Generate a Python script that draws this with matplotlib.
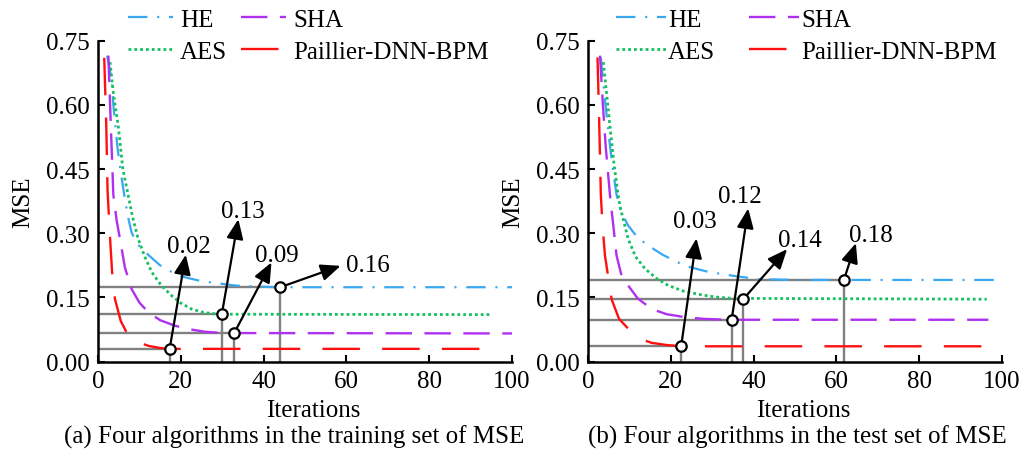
import matplotlib
matplotlib.use('Agg')
import matplotlib.pyplot as plt
from matplotlib.lines import Line2D

plt.rcParams['font.family'] = ['Liberation Serif', 'DejaVu Serif']
plt.rcParams['font.size'] = 18
plt.rcParams['lines.scale_dashes'] = False

# ---------------- training set (a) ----------------
tr_he_x = [2.2, 3.3, 3.7, 4.7, 5.6, 6.5, 7.2, 8.1, 9.5, 11.4, 15, 19.4, 25, 33.1, 42.8, 100]
tr_he_y = [0.715, 0.66, 0.60, 0.50, 0.435, 0.38, 0.34, 0.302, 0.275, 0.256, 0.225, 0.201, 0.188, 0.178, 0.174, 0.174]
tr_aes_x = [2.9, 3.8, 4.9, 6.0, 7.3, 8.3, 9.7, 11.3, 13.0, 15.3, 17.8, 20, 22.6, 25.5, 29, 95]
tr_aes_y = [0.70, 0.62, 0.55, 0.45, 0.388, 0.34, 0.287, 0.245, 0.209, 0.178, 0.154, 0.137, 0.123, 0.115, 0.111, 0.110]
tr_sha_x = [2.5, 3.1, 3.7, 4.5, 5.3, 6.5, 8.1, 10, 12.2, 15, 18.6, 22, 25.8, 30, 100]
tr_sha_y = [0.715, 0.55, 0.39, 0.33, 0.287, 0.22, 0.17, 0.138, 0.115, 0.097, 0.084, 0.076, 0.070, 0.067, 0.066]
tr_pdb_x = [1.5, 2.0, 2.3, 2.9, 3.4, 4.1, 5.5, 7.3, 9.5, 12.2, 15, 17.3, 95.5]
tr_pdb_y = [0.71, 0.55, 0.40, 0.29, 0.21, 0.146, 0.095, 0.061, 0.046, 0.037, 0.032, 0.030, 0.030]
# convergence points: Paillier, AES, SHA, HE
tr_mark_x = [17.3, 29.9, 32.9, 44.0]
tr_mark_y = [0.030, 0.111, 0.067, 0.174]
tr_labels = ['0.02', '0.13', '0.09', '0.16']

# ---------------- test set (b) ----------------
te_he_x = [3.1, 4.0, 5.0, 6.0, 6.9, 8.0, 9.7, 12, 14.6, 18, 23.4, 29, 35.5, 41.1, 50, 98]
te_he_y = [0.711, 0.62, 0.53, 0.45, 0.39, 0.35, 0.318, 0.29, 0.271, 0.25, 0.224, 0.21, 0.20, 0.193, 0.191, 0.191]
te_aes_x = [3.7, 5.2, 6.3, 7.3, 7.7, 9.7, 11.5, 13.8, 16.5, 19.4, 23, 27.5, 31, 34.8, 96.3]
te_aes_y = [0.70, 0.56, 0.46, 0.388, 0.364, 0.287, 0.245, 0.217, 0.195, 0.178, 0.165, 0.156, 0.151, 0.148, 0.146]
te_sha_x = [2.9, 3.6, 4.3, 5.3, 6.9, 8.0, 9.7, 12, 15.4, 19, 23.4, 28, 33.9, 96.7]
te_sha_y = [0.715, 0.60, 0.50, 0.39, 0.248, 0.205, 0.178, 0.148, 0.123, 0.111, 0.104, 0.100, 0.098, 0.098]
te_pdb_x = [2.3, 2.6, 2.9, 3.1, 3.5, 4.1, 5.7, 7.5, 10.5, 13, 15.4, 19, 22.6, 99]
te_pdb_y = [0.711, 0.60, 0.48, 0.39, 0.32, 0.248, 0.146, 0.10, 0.069, 0.052, 0.044, 0.039, 0.036, 0.036]
te_mark_x = [22.5, 34.7, 37.5, 61.8]
te_mark_y = [0.036, 0.098, 0.146, 0.191]
te_labels = ['0.03', '0.12', '0.14', '0.18']

names = ['HE', 'AES', 'SHA', 'Paillier-DNN-BPM']
colors = ['#3AA8F0', '#12C060', '#B030F0', '#FF1010']
dashes = [(14, 7, 1.5, 7), (2, 2.2), (19, 9), (27, 16)]
widths = [1.6, 2.0, 1.7, 1.7]

# arrow heads and label anchors (layout)
tr_heads = [(21.2, 0.250), (33.9, 0.333), (41.9, 0.232), (58.6, 0.224)]
tr_text = [(22.0, 0.256), (35.1, 0.337), (43.2, 0.236), (65.1, 0.213)]
te_heads = [(26.2, 0.288), (38.7, 0.358), (48.1, 0.263), (64.7, 0.277)]
te_text = [(25.8, 0.314), (36.7, 0.372), (51.1, 0.271), (68.4, 0.283)]

fig = plt.figure(figsize=(10.21, 4.56), dpi=100)
ax1 = fig.add_axes([0.096, 0.2046, 0.4055, 0.704])
ax2 = fig.add_axes([0.5759, 0.2046, 0.4055, 0.704])


def panel(ax, series, mark_x, mark_y, labels, heads, texts, caption, cap_x):
    for (xs, ys), c, d, w in zip(series, colors, dashes, widths):
        ax.plot(xs, ys, color=c, lw=w, dashes=d, zorder=3)
    for mx, my in zip(mark_x, mark_y):
        ax.plot([0, mx], [my, my], color='#808080', lw=1.7, zorder=2)
        ax.plot([mx, mx], [0, my], color='#808080', lw=1.7, zorder=2)
    ax.plot(mark_x, mark_y, 'o', ms=7.5, mfc='white', mec='black', mew=1.6, zorder=6)
    for mx, my, lab, h, t in zip(mark_x, mark_y, labels, heads, texts):
        ax.annotate('', xy=h, xytext=(mx, my),
                    arrowprops=dict(arrowstyle='-|>,head_length=0.4,head_width=0.17',
                                    mutation_scale=30, lw=1.6, color='black',
                                    shrinkA=4, shrinkB=0), zorder=5)
        ax.text(t[0], t[1], lab, ha='center', va='baseline', fontsize=18, zorder=7)
    ax.set_xlim(0, 100)
    ax.set_ylim(0, 0.75)
    ax.set_xticks([0, 20, 40, 60, 80, 100])
    ax.set_yticks([0, 0.15, 0.30, 0.45, 0.60, 0.75])
    ax.set_yticklabels(['0.00', '0.15', '0.30', '0.45', '0.60', '0.75'])
    ax.spines['top'].set_visible(False)
    ax.spines['right'].set_visible(False)
    ax.spines['left'].set_linewidth(1.8)
    ax.spines['bottom'].set_linewidth(1.8)
    ax.tick_params(direction='in', length=5, width=1.5, pad=6, labelsize=18)
    ax.set_xlabel('Iterations', fontsize=18)
    ax.xaxis.set_label_coords(0.52, -0.115)
    ax.set_ylabel('MSE', fontsize=18)
    ax.yaxis.set_label_coords(-0.155, 0.5)
    fig.text(cap_x, 0.04, caption, ha='center', va='center', fontsize=18)


panel(ax1, [(tr_he_x, tr_he_y), (tr_aes_x, tr_aes_y), (tr_sha_x, tr_sha_y), (tr_pdb_x, tr_pdb_y)],
      tr_mark_x, tr_mark_y, tr_labels, tr_heads, tr_text,
      '(a) Four algorithms in the training set of MSE', 294 / 1021)
panel(ax2, [(te_he_x, te_he_y), (te_aes_x, te_aes_y), (te_sha_x, te_sha_y), (te_pdb_x, te_pdb_y)],
      te_mark_x, te_mark_y, te_labels, te_heads, te_text,
      '(b) Four algorithms in the test set of MSE', 797 / 1021)

handles = [Line2D([], [], color=c, lw=w, dashes=d) for c, d, w in zip(colors, dashes, widths)]
fig.legend(handles, names, ncol=2, loc='upper left', bbox_to_anchor=(125 / 1021, 0.985),
           frameon=False, fontsize=18, borderpad=0.1, borderaxespad=0, handlelength=1.8,
           handletextpad=0.3, columnspacing=0.55, labelspacing=0.38)
fig.legend(handles, names, ncol=2, loc='upper left', bbox_to_anchor=(613 / 1021, 0.985),
           frameon=False, fontsize=18, borderpad=0.1, borderaxespad=0, handlelength=2.0,
           handletextpad=0.1, columnspacing=1.35, labelspacing=0.38)

fig.savefig('out.png', dpi=100)
